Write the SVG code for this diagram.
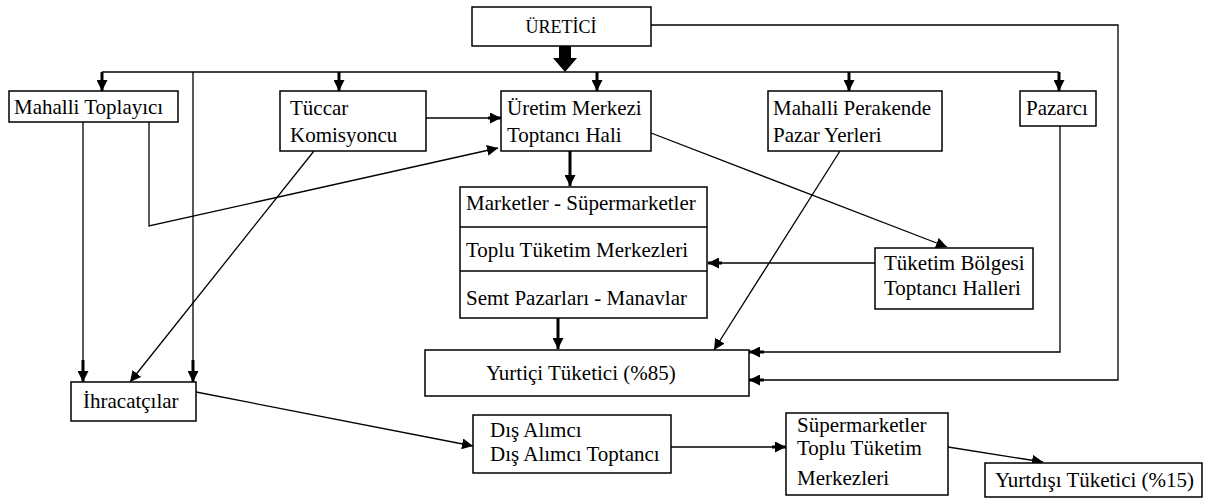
<svg xmlns="http://www.w3.org/2000/svg" width="1216" height="502" viewBox="0 0 1216 502">
<style>
  .box { fill: #fff; stroke: #000; stroke-width: 1.5; }
  .t { font-family: "Liberation Serif", "Times New Roman", "DejaVu Serif", serif; font-size: 21px; fill: #000; }
  .ts { font-family: "Liberation Serif", "Times New Roman", "DejaVu Serif", serif; font-size: 18px; fill: #000; }
  .c { fill: none; stroke: #000; stroke-width: 1.3; }
  .ck { fill: none; stroke: #000; stroke-width: 3; }
</style>
<defs>
  <marker id="ah" viewBox="0 0 10 10" refX="10" refY="5" markerWidth="11" markerHeight="11" markerUnits="userSpaceOnUse" orient="auto">
    <path d="M0,0 L10,5 L0,10 Z" fill="#000"/>
  </marker>
</defs>
<rect width="1216" height="502" fill="#fff"/>

<g id="connectors">
  <!-- big arrow from ÜRETİCİ -->
  <polygon points="559,46 571,46 571,58 577,58 565,72 553,58 559,58" fill="#000"/>
  <!-- bus -->
  <line class="c" x1="102" y1="72" x2="1059" y2="72"/>
  <line class="ck" x1="102" y1="72" x2="102" y2="91" marker-end="url(#ah)"/>
  <line class="ck" x1="339" y1="72" x2="339" y2="91" marker-end="url(#ah)"/>
  <line class="ck" x1="597" y1="72" x2="597" y2="91" marker-end="url(#ah)"/>
  <line class="ck" x1="849" y1="72" x2="849" y2="91" marker-end="url(#ah)"/>
  <line class="ck" x1="1059" y1="72" x2="1059" y2="91" marker-end="url(#ah)"/>
  <!-- bus to İhracatçılar -->
  <polyline class="c" points="193,72 193,372"/>
  <line class="ck" x1="193" y1="360" x2="193" y2="382" marker-end="url(#ah)"/>
  <!-- Mahalli Toplayıcı to İhracatçılar -->
  <polyline class="c" points="83,122 83,372"/>
  <line class="ck" x1="83" y1="360" x2="83" y2="382" marker-end="url(#ah)"/>
  <!-- Mahalli Toplayıcı to Üretim Merkezi -->
  <polyline class="c" points="149,122 149,226 498,148" marker-end="url(#ah)"/>
  <!-- Tüccar to Üretim -->
  <line class="c" x1="426" y1="118" x2="490" y2="118"/>
  <line class="ck" x1="488" y1="118" x2="501" y2="118" marker-end="url(#ah)"/>
  <!-- Tüccar to İhracatçılar -->
  <line class="c" x1="314" y1="151" x2="130" y2="382" marker-end="url(#ah)"/>
  <!-- Üretim to Marketler -->
  <line class="ck" x1="570" y1="151" x2="570" y2="186" marker-end="url(#ah)"/>
  <!-- Üretim to Tüketim Bölgesi -->
  <line class="c" x1="651" y1="133" x2="947" y2="247" marker-end="url(#ah)"/>
  <!-- Tüketim Bölgesi to Marketler -->
  <line class="c" x1="875" y1="263" x2="720" y2="263"/>
  <line class="ck" x1="722" y1="263" x2="708" y2="263" marker-end="url(#ah)"/>
  <!-- Semt to Yurtiçi -->
  <line class="ck" x1="558" y1="318" x2="558" y2="349" marker-end="url(#ah)"/>
  <!-- Mahalli Perakende to Yurtiçi -->
  <line class="c" x1="840" y1="151" x2="714" y2="350" marker-end="url(#ah)"/>
  <!-- Pazarcı to Yurtiçi -->
  <polyline class="c" points="1060,126 1060,352 762,352"/>
  <line class="ck" x1="764" y1="352" x2="749" y2="352" marker-end="url(#ah)"/>
  <!-- ÜRETİCİ to Yurtiçi -->
  <polyline class="c" points="651,25 1118,25 1118,380 762,380"/>
  <line class="ck" x1="764" y1="380" x2="749" y2="380" marker-end="url(#ah)"/>
  <!-- İhracatçılar to Dış Alımcı -->
  <line class="c" x1="196" y1="392" x2="473" y2="446" marker-end="url(#ah)"/>
  <!-- Dış Alımcı to Süpermarketler -->
  <line class="c" x1="671" y1="447" x2="774" y2="447"/>
  <line class="ck" x1="772" y1="447" x2="786" y2="447" marker-end="url(#ah)"/>
  <!-- Süpermarketler to Yurtdışı -->
  <polyline class="c" points="948,447 1043,462" marker-end="url(#ah)"/>
</g>

<g id="uretici">
  <rect class="box" x="472" y="7" width="179" height="39"/>
  <text class="ts" x="561" y="33" text-anchor="middle">ÜRETİCİ</text>
</g>
<g id="mahalli-toplayici">
  <rect class="box" x="9" y="91" width="169" height="31"/>
  <text class="t" x="14" y="114">Mahalli Toplayıcı</text>
</g>
<g id="tuccar">
  <rect class="box" x="280" y="91" width="146" height="60"/>
  <text class="t" x="290" y="115">Tüccar</text>
  <text class="t" x="290" y="142">Komisyoncu</text>
</g>
<g id="uretim-merkezi">
  <rect class="box" x="501" y="91" width="150" height="60"/>
  <text class="t" x="507" y="115">Üretim Merkezi</text>
  <text class="t" x="507" y="142">Toptancı Hali</text>
</g>
<g id="mahalli-perakende">
  <rect class="box" x="768" y="91" width="174" height="60"/>
  <text class="t" x="773" y="115">Mahalli Perakende</text>
  <text class="t" x="773" y="142">Pazar Yerleri</text>
</g>
<g id="pazarci">
  <rect class="box" x="1020" y="91" width="76" height="35"/>
  <text class="t" x="1026" y="115">Pazarcı</text>
</g>
<g id="marketler">
  <rect class="box" x="460" y="187" width="247" height="131"/>
  <line class="c" x1="460" y1="227" x2="707" y2="227"/>
  <line class="c" x1="460" y1="271" x2="707" y2="271"/>
  <text class="t" x="466" y="210">Marketler - Süpermarketler</text>
  <text class="t" x="466" y="257">Toplu Tüketim Merkezleri</text>
  <text class="t" x="466" y="305">Semt Pazarları - Manavlar</text>
</g>
<g id="tuketim-bolgesi">
  <rect class="box" x="875" y="248" width="158" height="61"/>
  <text class="t" x="884" y="270">Tüketim Bölgesi</text>
  <text class="t" x="884" y="295">Toptancı Halleri</text>
</g>
<g id="yurtici">
  <rect class="box" x="425" y="350" width="324" height="46"/>
  <text class="t" x="486" y="380">Yurtiçi Tüketici (%85)</text>
</g>
<g id="ihracatcilar">
  <rect class="box" x="71" y="382" width="125" height="39"/>
  <text class="t" x="83" y="408">İhracatçılar</text>
</g>
<g id="dis-alimci">
  <rect class="box" x="473" y="415" width="198" height="58"/>
  <text class="t" x="490" y="437">Dış Alımcı</text>
  <text class="t" x="490" y="461">Dış Alımcı Toptancı</text>
</g>
<g id="supermarketler">
  <rect class="box" x="786" y="413" width="162" height="82"/>
  <text class="t" x="797" y="432">Süpermarketler</text>
  <text class="t" x="797" y="455">Toplu Tüketim</text>
  <text class="t" x="797" y="485">Merkezleri</text>
</g>
<g id="yurtdisi">
  <rect class="box" x="985" y="463" width="217" height="34"/>
  <text class="t" x="995" y="487">Yurtdışı Tüketici (%15)</text>
</g>
</svg>
